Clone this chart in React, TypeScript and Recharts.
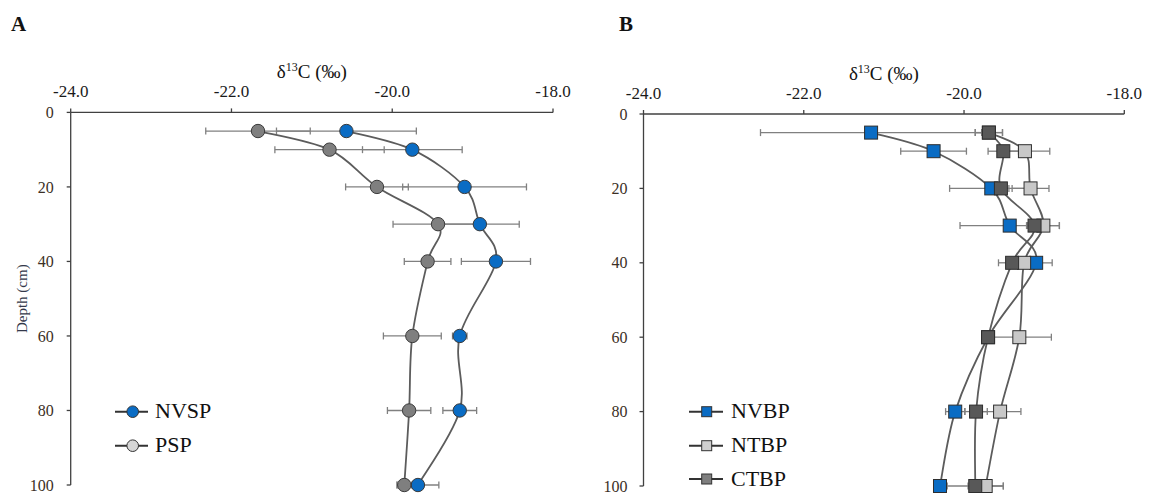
import React from 'react';
import { LineChart, Line, XAxis, YAxis, ErrorBar, Legend } from 'recharts';

// ---------- data ----------
const depths = [5, 10, 20, 30, 40, 60, 80, 100];
const xTicks = [-24, -22, -20, -18];
const yTicks = [0, 20, 40, 60, 80, 100];

// Panel A
const nvsp = [-20.57, -19.75, -19.1, -18.91, -18.71, -19.16, -19.16, -19.68];
const nvspErr = [0.87, 0.62, 0.77, 0.49, 0.43, 0.09, 0.21, 0.26];
const psp = [-21.67, -20.78, -20.19, -19.43, -19.56, -19.75, -19.79, -19.85];
const pspErr = [0.65, 0.68, 0.39, 0.56, 0.29, 0.36, 0.27, 0.09];

// Panel B
const nvbp = [-21.16, -20.38, -19.66, -19.43, -19.1, -19.7, -20.11, -20.3];
const nvbpErr = [1.38, 0.41, 0.52, 0.62, 0.2, 0.05, 0.12, 0.05];
const ntbp = [-19.69, -19.24, -19.17, -19.01, -19.25, -19.31, -19.55, -19.73];
const ntbpErr = [0.17, 0.31, 0.23, 0.2, 0.1, 0.4, 0.26, 0.22];
const ctbp = [-19.69, -19.51, -19.54, -19.12, -19.4, -19.7, -19.85, -19.86];
const ctbpErr = [0.17, 0.19, 0.1, 0.1, 0.17, 0.05, 0.14, 0.35];

const dataA = depths.map((d, i) => ({
  depth: d,
  nvsp: nvsp[i],
  nvspErr: nvspErr[i],
  psp: psp[i],
  pspErr: pspErr[i],
}));

const dataB = depths.map((d, i) => ({
  depth: d,
  nvbp: nvbp[i],
  nvbpErr: nvbpErr[i],
  ntbp: ntbp[i],
  ntbpErr: ntbpErr[i],
  ctbp: ctbp[i],
  ctbpErr: ctbpErr[i],
}));

// ---------- styling ----------
const SERIF = "'Liberation Serif', 'Times New Roman', serif";
const BLUE = '#0A6CC4';
const LINE = '#5c5c5c';
const ERR = '#808080';
const AXIS = '#404040';

// Excel-like smoothed line (Catmull-Rom through the points)
const smoothCurve = (context: any) => {
  let pts: number[][] = [];
  return {
    areaStart() {},
    areaEnd() {},
    lineStart() {
      pts = [];
    },
    point(x: number, y: number) {
      pts.push([+x, +y]);
    },
    lineEnd() {
      const n = pts.length;
      if (!n) return;
      context.moveTo(pts[0][0], pts[0][1]);
      const t = 1 / 6;
      for (let i = 0; i < n - 1; i++) {
        const p0 = pts[i > 0 ? i - 1 : i];
        const p1 = pts[i];
        const p2 = pts[i + 1];
        const p3 = pts[i + 2 < n ? i + 2 : i + 1];
        context.bezierCurveTo(
          p1[0] + (p2[0] - p0[0]) * t,
          p1[1] + (p2[1] - p0[1]) * t,
          p2[0] - (p3[0] - p1[0]) * t,
          p2[1] - (p3[1] - p1[1]) * t,
          p2[0],
          p2[1]
        );
      }
    },
  };
};

const circleDot = (fill: string) => (props: any) => {
  const { cx, cy, index } = props;
  if (cx == null || cy == null) return <g key={`e-${index}`} />;
  return (
    <circle key={`c-${index}`} cx={cx} cy={cy} r={6.7} fill={fill} stroke="#3a3a3a" strokeWidth={1} />
  );
};

const squareDot = (fill: string) => (props: any) => {
  const { cx, cy, index } = props;
  if (cx == null || cy == null) return <g key={`e-${index}`} />;
  const s = 13;
  return (
    <rect
      key={`s-${index}`}
      x={cx - s / 2}
      y={cy - s / 2}
      width={s}
      height={s}
      fill={fill}
      stroke="#2e2e2e"
      strokeWidth={1}
    />
  );
};

const xTitle = (props: any) => {
  const vb = props.viewBox || {};
  const cx = vb.x + vb.width / 2;
  return (
    <text x={cx} y={vb.y - 4} textAnchor="middle" fontFamily={SERIF} fontSize={19} fill="#111">
      δ
      <tspan dy={-7} fontSize={12}>
        13
      </tspan>
      <tspan dy={7}>C (‰)</tspan>
    </text>
  );
};

const depthLabel = (props: any) => {
  const vb = props.viewBox || {};
  const cy = vb.y + vb.height / 2;
  return (
    <text
      x={22}
      y={cy}
      transform={`rotate(-90, 22, ${cy})`}
      textAnchor="middle"
      dominantBaseline="central"
      fontFamily={SERIF}
      fontSize={15}
      fill="#33384a"
    >
      Depth (cm)
    </text>
  );
};

const legendA = () => (
  <svg width={140} height={70} style={{ display: 'block' }}>
    {[
      { y: 21.7, fill: BLUE, name: 'NVSP' },
      { y: 55.7, fill: '#d6d6d6', name: 'PSP' },
    ].map((r) => (
      <g key={r.name}>
        <line x1={15} x2={48} y1={r.y} y2={r.y} stroke="#333" strokeWidth={2} />
        <circle cx={32.7} cy={r.y} r={5.8} fill={r.fill} stroke="#333" strokeWidth={1} />
        <text x={55} y={r.y + 6.6} fontFamily={SERIF} fontSize={22} fill="#111">
          {r.name}
        </text>
      </g>
    ))}
  </svg>
);

const legendB = () => (
  <svg width={140} height={105} style={{ display: 'block' }}>
    {[
      { y: 21.7, fill: BLUE, name: 'NVBP' },
      { y: 55.7, fill: '#cfcfcf', name: 'NTBP' },
      { y: 89, fill: '#7f7f7f', name: 'CTBP' },
    ].map((r) => (
      <g key={r.name}>
        <line x1={9} x2={43} y1={r.y} y2={r.y} stroke="#333" strokeWidth={2} />
        <rect x={26.7 - 5} y={r.y - 5} width={10} height={10} fill={r.fill} stroke="#333" strokeWidth={1} />
        <text x={51} y={r.y + 6.6} fontFamily={SERIF} fontSize={22} fill="#111">
          {r.name}
        </text>
      </g>
    ))}
  </svg>
);

const xTickProps = { fontFamily: SERIF, fontSize: 17, fill: '#1a1a1a' };
const yTickProps = { fontFamily: SERIF, fontSize: 16, fill: '#3b2f25' };

export default function App() {
  return (
    <div
      style={{
        position: 'absolute',
        left: 0,
        top: 0,
        width: 1150,
        height: 495,
        background: '#ffffff',
        overflow: 'hidden',
      }}
    >
      <svg width={1150} height={495} style={{ position: 'absolute', left: 0, top: 0 }}>
        <text x={11} y={31} fontFamily={SERIF} fontWeight="bold" fontSize={21} fill="#111">
          A
        </text>
        <text x={619} y={31} fontFamily={SERIF} fontWeight="bold" fontSize={21} fill="#111">
          B
        </text>
      </svg>

      <div style={{ position: 'absolute', left: 0, top: 0 }}>
        <LineChart
          width={580}
          height={495}
          layout="vertical"
          data={dataA}
          margin={{ top: 82.4, right: 27, bottom: 10, left: 10.7 }}
        >
          <XAxis
            type="number"
            orientation="top"
            domain={[-24, -18]}
            ticks={xTicks}
            interval={0}
            tickFormatter={(v: number) => v.toFixed(1)}
            height={30}
            tickSize={4}
            tickMargin={11}
            tick={xTickProps}
            axisLine={{ stroke: AXIS, strokeWidth: 1.3 }}
            tickLine={{ stroke: AXIS, strokeWidth: 1.3 }}
            label={xTitle}
          />
          <YAxis
            type="number"
            dataKey="depth"
            domain={[0, 100]}
            ticks={yTicks}
            interval={0}
            width={60}
            tickSize={4}
            tickMargin={13}
            tick={yTickProps}
            axisLine={{ stroke: AXIS, strokeWidth: 1.3 }}
            tickLine={{ stroke: AXIS, strokeWidth: 1.3 }}
            label={depthLabel}
          />
          <Line
            dataKey="nvsp"
            type={smoothCurve as any}
            stroke={LINE}
            strokeWidth={1.8}
            dot={circleDot(BLUE)}
            isAnimationActive={false}
          >
            <ErrorBar dataKey="nvspErr" direction="x" width={3.5} stroke={ERR} strokeWidth={1.3} />
          </Line>
          <Line
            dataKey="psp"
            type={smoothCurve as any}
            stroke={LINE}
            strokeWidth={1.8}
            dot={circleDot('#7f7f7f')}
            isAnimationActive={false}
          >
            <ErrorBar dataKey="pspErr" direction="x" width={3.5} stroke={ERR} strokeWidth={1.3} />
          </Line>
          <Legend
            layout="vertical"
            align="center"
            verticalAlign="middle"
            content={legendA}
            wrapperStyle={{ position: 'absolute', left: 100, top: 390, width: 140, height: 70 }}
          />
        </LineChart>
      </div>

      <div style={{ position: 'absolute', left: 580, top: 0 }}>
        <LineChart
          width={570}
          height={495}
          layout="vertical"
          data={dataB}
          margin={{ top: 84, right: 25.7, bottom: 9, left: 3.5 }}
        >
          <XAxis
            type="number"
            orientation="top"
            domain={[-24, -18]}
            ticks={xTicks}
            interval={0}
            tickFormatter={(v: number) => v.toFixed(1)}
            height={30}
            tickSize={4}
            tickMargin={11}
            tick={xTickProps}
            axisLine={{ stroke: AXIS, strokeWidth: 1.3 }}
            tickLine={{ stroke: AXIS, strokeWidth: 1.3 }}
            label={xTitle}
          />
          <YAxis
            type="number"
            dataKey="depth"
            domain={[0, 100]}
            ticks={yTicks}
            interval={0}
            width={60}
            tickSize={4}
            tickMargin={12}
            tick={yTickProps}
            axisLine={{ stroke: AXIS, strokeWidth: 1.3 }}
            tickLine={{ stroke: AXIS, strokeWidth: 1.3 }}
          />
          <Line
            dataKey="nvbp"
            type={smoothCurve as any}
            stroke={LINE}
            strokeWidth={1.8}
            dot={squareDot(BLUE)}
            isAnimationActive={false}
          >
            <ErrorBar dataKey="nvbpErr" direction="x" width={3.5} stroke={ERR} strokeWidth={1.3} />
          </Line>
          <Line
            dataKey="ntbp"
            type={smoothCurve as any}
            stroke={LINE}
            strokeWidth={1.8}
            dot={squareDot('#c8c8c8')}
            isAnimationActive={false}
          >
            <ErrorBar dataKey="ntbpErr" direction="x" width={3.5} stroke={ERR} strokeWidth={1.3} />
          </Line>
          <Line
            dataKey="ctbp"
            type={smoothCurve as any}
            stroke={LINE}
            strokeWidth={1.8}
            dot={squareDot('#585858')}
            isAnimationActive={false}
          >
            <ErrorBar dataKey="ctbpErr" direction="x" width={3.5} stroke={ERR} strokeWidth={1.3} />
          </Line>
          <Legend
            layout="vertical"
            align="center"
            verticalAlign="middle"
            content={legendB}
            wrapperStyle={{ position: 'absolute', left: 100, top: 390, width: 140, height: 105 }}
          />
        </LineChart>
      </div>
    </div>
  );
}
